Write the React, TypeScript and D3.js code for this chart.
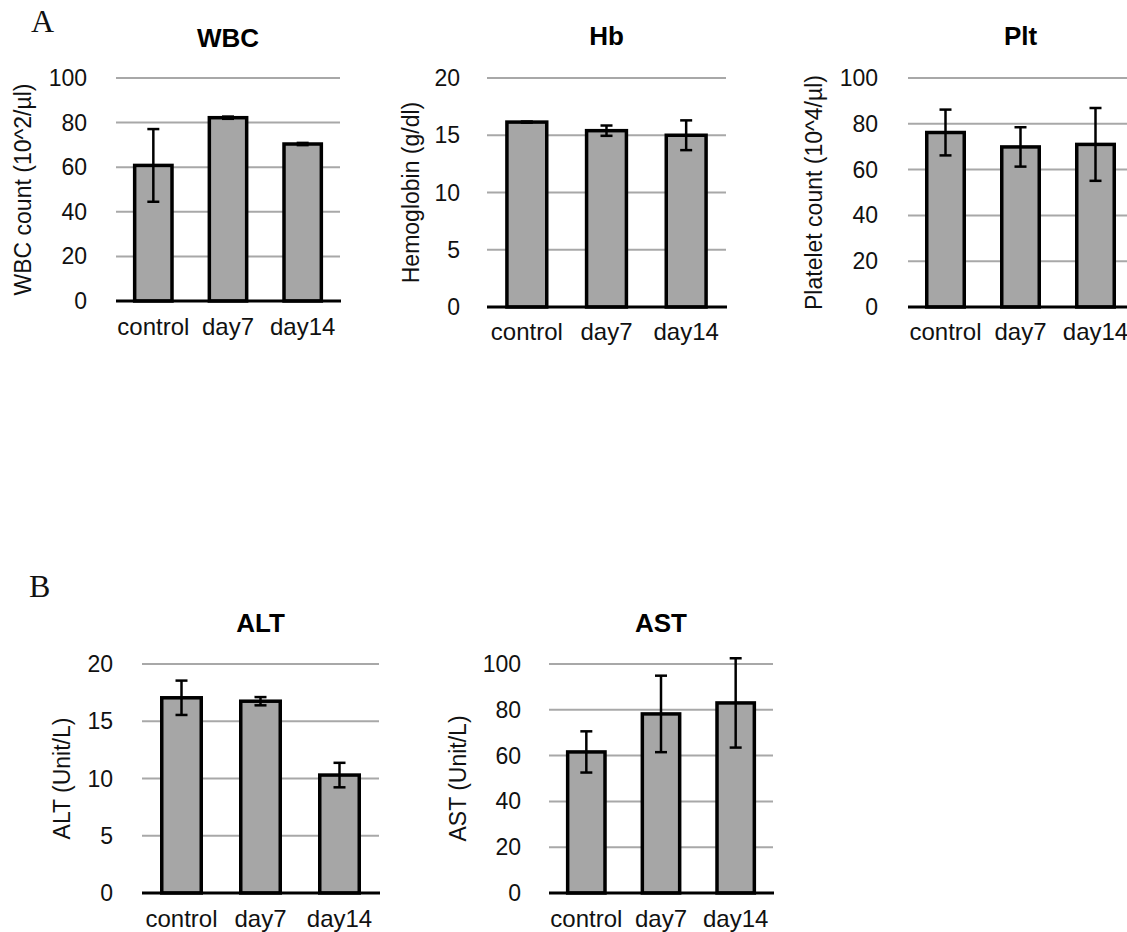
import React from "react";
import * as d3 from "d3";

// ---- data ----
const categories = ["control", "day7", "day14"];

const wbcMean = [60.8, 82.2, 70.4];
const wbcErr = [16.3, 0.5, 0.5];
const wbcTicks = [0, 20, 40, 60, 80, 100];

const hbMean = [16.15, 15.4, 15.0];
const hbErr = [0.05, 0.45, 1.3];
const hbTicks = [0, 5, 10, 15, 20];

const pltMean = [76.2, 69.9, 71.0];
const pltErr = [10.0, 8.6, 15.9];
const pltTicks = [0, 20, 40, 60, 80, 100];

const altMean = [17.05, 16.75, 10.3];
const altErr = [1.5, 0.36, 1.07];
const altTicks = [0, 5, 10, 15, 20];

const astMean = [61.6, 78.2, 83.0];
const astErr = [9.0, 16.7, 19.5];
const astTicks = [0, 20, 40, 60, 80, 100];

// ---- layout (pixel frames for each panel) ----
type Frame = { left: number; right: number; top: number; bottom: number; titleY: number; yLabelX: number; xLabelY: number; tickRight: number };

const panels = [
  { title: "WBC", yLabel: "WBC count (10^2/µl)", mean: wbcMean, err: wbcErr, ticks: wbcTicks,
    frame: { left: 116, right: 340, top: 78, bottom: 301, titleY: 47, yLabelX: 23, xLabelY: 335, tickRight: 87 } as Frame },
  { title: "Hb", yLabel: "Hemoglobin (g/dl)", mean: hbMean, err: hbErr, ticks: hbTicks,
    frame: { left: 487, right: 726, top: 78, bottom: 307, titleY: 45, yLabelX: 411, xLabelY: 340, tickRight: 460 } as Frame },
  { title: "Plt", yLabel: "Platelet count (10^4/µl)", mean: pltMean, err: pltErr, ticks: pltTicks,
    frame: { left: 908, right: 1133, top: 78, bottom: 307, titleY: 45, yLabelX: 814, xLabelY: 340, tickRight: 878 } as Frame },
  { title: "ALT", yLabel: "ALT (Unit/L)", mean: altMean, err: altErr, ticks: altTicks,
    frame: { left: 142, right: 379, top: 664, bottom: 893, titleY: 632, yLabelX: 62, xLabelY: 927, tickRight: 113 } as Frame },
  { title: "AST", yLabel: "AST (Unit/L)", mean: astMean, err: astErr, ticks: astTicks,
    frame: { left: 549, right: 773, top: 664, bottom: 893, titleY: 632, yLabelX: 458, xLabelY: 927, tickRight: 521 } as Frame },
];

const FONT = "Liberation Sans, Arial, Helvetica, sans-serif";

function Panel({ p }: { p: typeof panels[number] }) {
  const f = p.frame;
  const maxTick = p.ticks[p.ticks.length - 1];
  const y = d3.scaleLinear().domain([0, maxTick]).range([f.bottom, f.top]);
  const x = d3.scaleBand<string>().domain(categories).range([f.left, f.right]).paddingInner(0.5).paddingOuter(0.25);
  const cx = (f.left + f.right) / 2;
  const cy = (f.top + f.bottom) / 2;
  const bw = x.bandwidth();
  return (
    <g>
      {p.ticks.filter((t) => t > 0).map((t) => (
        <line key={"g" + t} x1={f.left} x2={f.right} y1={y(t)} y2={y(t)} stroke="#a8a8a8" strokeWidth={2} />
      ))}
      {p.ticks.map((t) => (
        <text key={"t" + t} x={f.tickRight} y={y(t)} textAnchor="end" dominantBaseline="central"
          fontFamily={FONT} fontSize={23} fill="#111">{t}</text>
      ))}
      {categories.map((c, i) => (
        <rect key={"b" + c} x={x(c)!} y={y(p.mean[i])} width={bw} height={f.bottom - y(p.mean[i])}
          fill="#a6a6a6" stroke="#000" strokeWidth={3.5} />
      ))}
      <line x1={f.left} x2={f.right + 1} y1={f.bottom} y2={f.bottom} stroke="#000" strokeWidth={3} />
      {categories.map((c, i) => {
        const mx = x(c)! + bw / 2;
        const hi = y(p.mean[i] + p.err[i]);
        const lo = y(p.mean[i] - p.err[i]);
        return (
          <g key={"e" + c} stroke="#000" strokeWidth={2.5}>
            <line x1={mx} x2={mx} y1={hi} y2={lo} />
            <line x1={mx - 6} x2={mx + 6} y1={hi} y2={hi} />
            <line x1={mx - 6} x2={mx + 6} y1={lo} y2={lo} />
          </g>
        );
      })}
      {categories.map((c) => (
        <text key={"x" + c} x={x(c)! + bw / 2} y={f.xLabelY} textAnchor="middle"
          fontFamily={FONT} fontSize={24} fill="#111">{c}</text>
      ))}
      <text x={cx} y={f.titleY} textAnchor="middle" fontFamily={FONT} fontSize={26} fontWeight="bold" fill="#000">{p.title}</text>
      <text transform={`translate(${f.yLabelX},${cy}) rotate(-90)`} textAnchor="middle" dominantBaseline="central"
        fontFamily={FONT} fontSize={23} fill="#111">{p.yLabel}</text>
    </g>
  );
}

export default function App() {
  return (
    <svg width={1127} height={932} style={{ position: "absolute", left: 0, top: 0, background: "#fff" }}>
      <rect x={0} y={0} width={1127} height={932} fill="#fff" />
      <text x={31} y={32} fontFamily="Liberation Serif, Times New Roman, serif" fontSize={32} fill="#111">A</text>
      <text x={29} y={597} fontFamily="Liberation Serif, Times New Roman, serif" fontSize={32} fill="#111">B</text>
      {panels.map((p) => (
        <Panel key={p.title} p={p} />
      ))}
    </svg>
  );
}
